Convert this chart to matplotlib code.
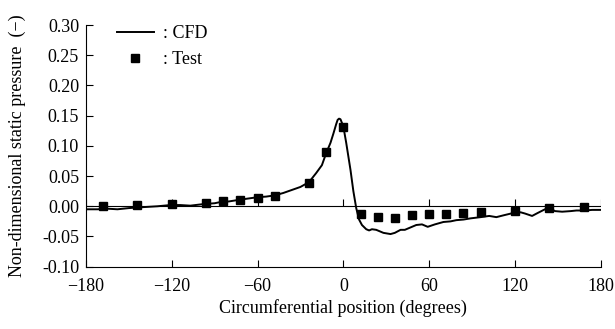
import numpy as np
import matplotlib.pyplot as plt
from matplotlib.ticker import FormatStrFormatter

plt.rcParams['font.family'] = ['Liberation Serif', 'DejaVu Serif']

# CFD curve
cfd_deg = [-180, -172, -165, -158, -150, -144, -137, -130, -121, -114, -107, -100,
           -96, -90, -86, -80, -72, -66, -60, -54, -48, -42, -36, -30, -24, -19,
           -15, -12, -9, -7, -5, -4, -3, -2, 0, 2, 4, 5, 7, 9, 11, 13, 16, 18,
           20, 23, 28, 33, 36, 40, 43, 47, 51, 55, 59, 64, 70, 75, 79, 84, 89,
           96, 102, 107, 112, 119, 124, 127, 132, 136, 141, 145, 148, 153, 159,
           163, 169, 174, 180]
cfd_p = [-0.005, -0.005, -0.004, -0.005, -0.003, -0.002, -0.001, 0.000, 0.002,
         0.002, 0.001, 0.003, 0.004, 0.005, 0.007, 0.008, 0.011, 0.013, 0.015,
         0.016, 0.018, 0.022, 0.027, 0.032, 0.040, 0.055, 0.068, 0.088, 0.105,
         0.120, 0.136, 0.143, 0.145, 0.144, 0.132, 0.105, 0.075, 0.060, 0.025,
         -0.003, -0.022, -0.031, -0.038, -0.040, -0.038, -0.039, -0.044, -0.046,
         -0.044, -0.039, -0.039, -0.035, -0.031, -0.030, -0.034, -0.030, -0.026,
         -0.025, -0.023, -0.022, -0.020, -0.018, -0.016, -0.018, -0.015, -0.011,
         -0.010, -0.012, -0.016, -0.011, -0.005, -0.004, -0.008, -0.009, -0.008,
         -0.007, -0.007, -0.006, -0.006]

# test points
test_deg = [-168, -144, -120, -96, -84, -72, -60, -48, -24, -12, 0,
            12, 24, 36, 48, 60, 72, 84, 96, 120, 144, 168]
test_p = [0.000, 0.002, 0.003, 0.006, 0.008, 0.011, 0.013, 0.0165, 0.039, 0.089, 0.132,
          -0.013, -0.0177, -0.019, -0.015, -0.012, -0.012, -0.0105, -0.009, -0.0075,
          -0.003, -0.0015]

xticks = [-180, -120, -60, 0, 60, 120, 180]
yticks = [-0.10, -0.05, 0.00, 0.05, 0.10, 0.15, 0.20, 0.25, 0.30]

fs = 13

fig = plt.figure(figsize=(6.15, 3.29), dpi=100)
ax = fig.add_axes([0.1398, 0.1894, 0.837, 0.7346])

ax.plot(cfd_deg, cfd_p, color='black', lw=1.4, label=': CFD', zorder=3)
ax.plot(test_deg, test_p, ls='none', marker='s', ms=5.5, color='black',
        label=': Test', zorder=4)

# zero line with its own upward ticks
ax.axhline(0, color='black', lw=0.8, zorder=2)
ax.vlines(xticks, 0, 0.0115, color='black', lw=0.8, zorder=2)

ax.set_xlim(-180, 180)
ax.set_ylim(-0.10, 0.30)
ax.set_xticks(xticks)
ax.set_yticks(yticks)
ax.yaxis.set_major_formatter(FormatStrFormatter('%.2f'))

for s in ['top', 'right']:
    ax.spines[s].set_visible(False)
for s in ['left', 'bottom']:
    ax.spines[s].set_linewidth(0.8)

ax.tick_params(axis='both', direction='in', length=5, width=0.8, labelsize=fs)
ax.tick_params(axis='y', pad=5)
ax.tick_params(axis='x', pad=8)

ax.set_xlabel('Circumferential position (degrees)', fontsize=fs, va='center')
ax.xaxis.set_label_coords(0.5, -0.171)
ax.set_ylabel('Non-dimensional static pressure  (\u2212)', fontsize=fs, va='center')
ax.yaxis.set_label_coords(-0.134, 0.5)

ax.legend(loc='upper left', bbox_to_anchor=(0.06, 0.998), frameon=False,
          fontsize=fs, handlelength=2.05, handletextpad=0.5,
          labelspacing=0.48, borderpad=0, borderaxespad=0)

fig.savefig('out.png', dpi=100)
